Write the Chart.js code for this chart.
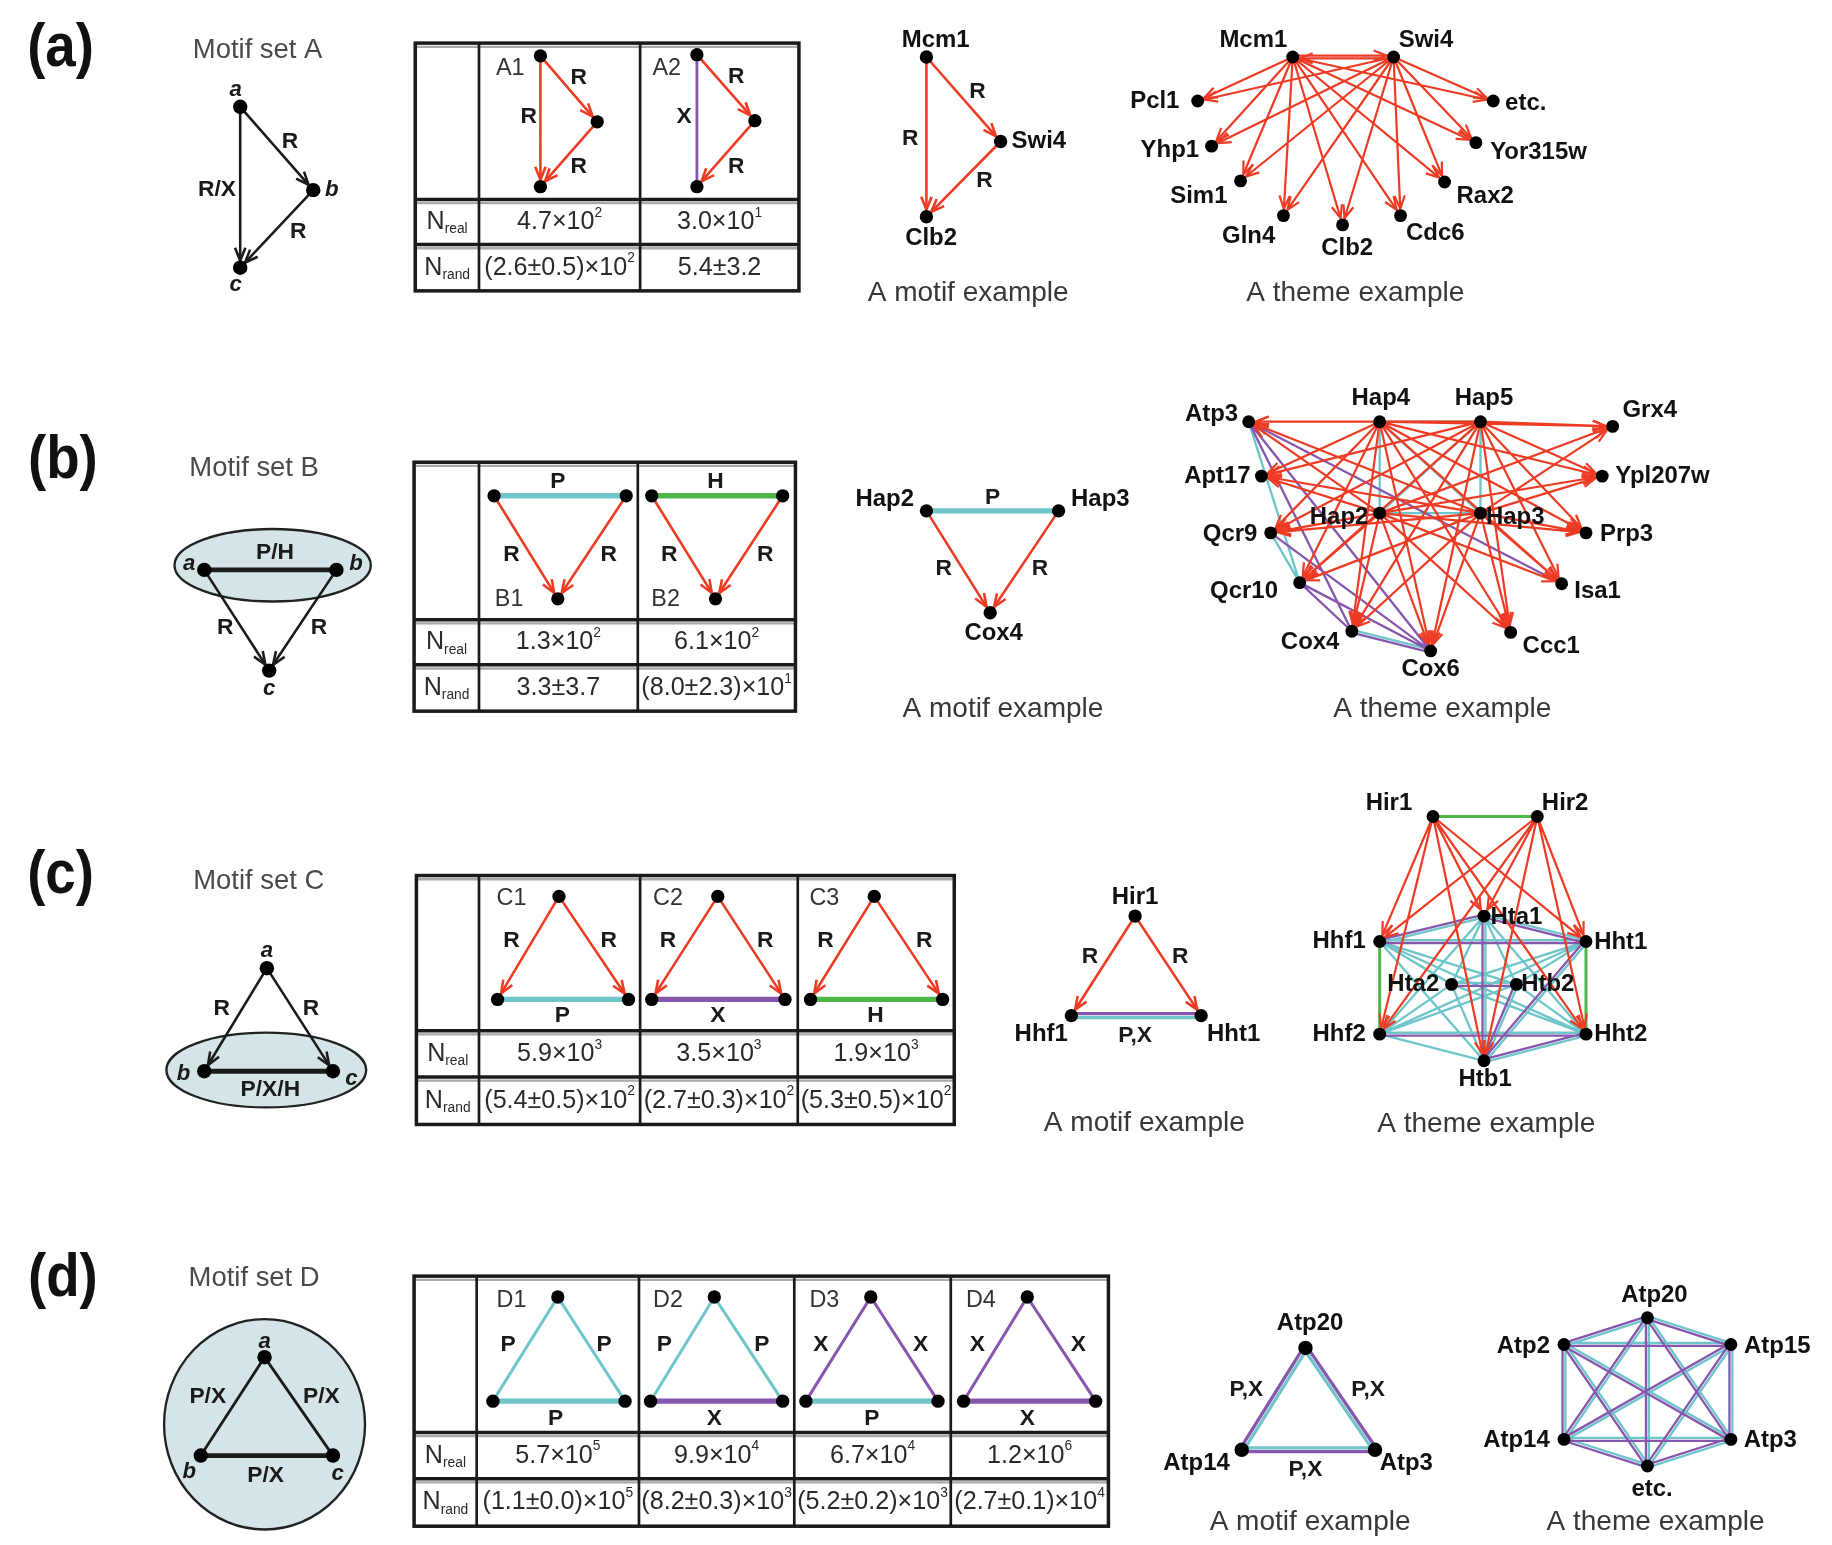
<!DOCTYPE html>
<html><head><meta charset="utf-8">
<script src="https://cdn.jsdelivr.net/npm/chart.js@4.4.1/dist/chart.umd.min.js"></script>
<style>html,body{margin:0;padding:0;background:#fff;overflow:hidden}canvas{display:block}</style>
</head><body>
<canvas id="c" width="1832" height="1545" style="width:1832px;height:1545px"></canvas>
<script>
// ================= DATA (figure units: 1568 x 1322 frame) =================
const panelLabels = ['(a)','(b)','(c)','(d)'];
const motifSetTitles = ['Motif set A','Motif set B','Motif set C','Motif set D'];
const rowHeads = ['N_{real}','N_{rand}'];
const captions = ['A motif example','A theme example'];

const motifIdsA = ['A1','A2'];
const nRealA = ['4.7×10^2','3.0×10^1'];
const nRandA = ['(2.6±0.5)×10^2','5.4±3.2'];
const motifIdsB = ['B1','B2'];
const nRealB = ['1.3×10^2','6.1×10^2'];
const nRandB = ['3.3±3.7','(8.0±2.3)×10^1'];
const motifIdsC = ['C1','C2','C3'];
const nRealC = ['5.9×10^3','3.5×10^3','1.9×10^3'];
const nRandC = ['(5.4±0.5)×10^2','(2.7±0.3)×10^2','(5.3±0.5)×10^2'];
const motifIdsD = ['D1','D2','D3','D4'];
const nRealD = ['5.7×10^5','9.9×10^4','6.7×10^4','1.2×10^6'];
const nRandD = ['(1.1±0.0)×10^5','(8.2±0.3)×10^3','(5.2±0.2)×10^3','(2.7±0.1)×10^4'];

// generic motif sets (nodes: id, x, y ; edges: from, to, kind)
const genANodes = [['a',201,86],['b',264,158],['c',201,225]];
const genAEdges = [['a','b','K'],['a','c','K'],['b','c','K']];
const genBNodes = [['a',170,486],['b',284,486],['c',226,573]];
const genBEdges = [['a','b','kk'],['a','c','K'],['b','c','K']];
const genCNodes = [['a',224,830],['b',170,919],['c',281,919]];
const genCEdges = [['a','b','K'],['a','c','K'],['b','c','kk']];
const genDNodes = [['a',222,1166],['b',167,1251],['c',281,1251]];
const genDEdges = [['a','b','k'],['a','c','k'],['b','c','kk']];

// motifs inside the tables
const A1Nodes = [['t',460,42],['m',509,99],['b',460,155]];
const A1Edges = [['t','m','R'],['t','b','R'],['m','b','R']];
const A2Nodes = [['t',595,41],['m',645,98],['b',595,155]];
const A2Edges = [['t','m','R'],['t','b','X'],['m','b','R']];
const B1Nodes = [['l',420,422],['r',534,422],['b',475,511]];
const B1Edges = [['l','r','PP'],['l','b','R'],['r','b','R']];
const B2Nodes = [['l',556,422],['r',669,422],['b',611,511]];
const B2Edges = [['l','r','HH'],['l','b','R'],['r','b','R']];
const C1Nodes = [['t',476,768],['l',423,857],['r',536,857]];
const C1Edges = [['t','l','R'],['t','r','R'],['l','r','PP']];
const C2Nodes = [['t',613,768],['l',556,857],['r',671,857]];
const C2Edges = [['t','l','R'],['t','r','R'],['l','r','XX']];
const C3Nodes = [['t',748,768],['l',693,857],['r',807,857]];
const C3Edges = [['t','l','R'],['t','r','R'],['l','r','HH']];
const D1Nodes = [['t',475,1114],['l',419,1204],['r',533,1204]];
const D1Edges = [['t','l','P3'],['t','r','P3'],['l','r','PP']];
const D2Nodes = [['t',610,1114],['l',555,1204],['r',669,1204]];
const D2Edges = [['t','l','P3'],['t','r','P3'],['l','r','XX']];
const D3Nodes = [['t',745,1114],['l',689,1204],['r',803,1204]];
const D3Edges = [['t','l','X3'],['t','r','X3'],['l','r','PP']];
const D4Nodes = [['t',880,1114],['l',825,1204],['r',939,1204]];
const D4Edges = [['t','l','X3'],['t','r','X3'],['l','r','XX']];

// motif examples
const exANodes = [['Mcm1',793,43],['Swi4',857,116],['Clb2',793,181]];
const exAEdges = [['Mcm1','Swi4','R'],['Mcm1','Clb2','R'],['Swi4','Clb2','R']];
const exBNodes = [['Hap2',793,435],['Hap3',907,435],['Cox4',848,523]];
const exBEdges = [['Hap2','Hap3','PP'],['Hap2','Cox4','R'],['Hap3','Cox4','R']];
const exCNodes = [['Hir1',973,785],['Hhf1',918,871],['Hht1',1030,871]];
const exCEdges = [['Hir1','Hhf1','R'],['Hir1','Hht1','R'],['Hhf1','Hht1','Xm'],['Hhf1','Hht1','Pm']];
const exDNodes = [['Atp20',1120,1158],['Atp14',1065,1246],['Atp3',1180,1246]];
const exDEdges = [['Atp20','Atp14','Pm'],['Atp20','Atp14','Xm'],['Atp14','Atp3','Pm'],['Atp14','Atp3','Xm'],['Atp20','Atp3','Xm'],['Atp20','Atp3','Pm']];

// theme examples
const thANodes = [['Mcm1',1109,43],['Swi4',1196,43],['Pcl1',1027,81],['Yhp1',1039,120],['Sim1',1064,150],['Gln4',1101,180],
  ['Clb2',1152,188],['Cdc6',1202,180],['Rax2',1240,151],['Yor315w',1267,117],['etc.',1282,81]];
const thARegs = ['Mcm1','Swi4'];
const thATargets = ['Pcl1','Yhp1','Sim1','Gln4','Clb2','Cdc6','Rax2','Yor315w','etc.'];
const thAExtra = [['Mcm1','Swi4','r'],['Swi4','Mcm1','r']];

const thBNodes = [['Atp3',1071,358],['Hap4',1184,358],['Hap5',1271,358],['Grx4',1385,362],['Apt17',1082,405],['Ypl207w',1376,405],
  ['Qcr9',1090,454],['Hap2',1184,437],['Hap3',1271,437],['Prp3',1362,454],['Qcr10',1115,497],['Isa1',1341,498],
  ['Cox4',1160,539],['Cox6',1228,556],['Ccc1',1297,540]];
const thBRegs = ['Hap4','Hap5','Hap2','Hap3'];
const thBTargets = ['Atp3','Apt17','Qcr9','Qcr10','Cox4','Cox6','Ccc1','Isa1','Prp3','Ypl207w','Grx4'];
const thBCyan = [['Hap4','Hap5'],['Hap2','Hap3'],['Hap4','Hap2'],['Hap5','Hap3'],['Hap4','Hap3'],['Hap5','Hap2'],['Atp3','Qcr10'],['Qcr9','Qcr10'],['Cox4','Cox6']];
const thBPurple = [['Atp3','Isa1'],['Atp3','Cox6'],['Atp3','Cox4'],['Qcr9','Cox6'],['Qcr10','Cox6'],['Qcr10','Cox4'],['Cox4','Cox6']];

const thCNodes = [['Hir1',1230,699],['Hir2',1320,699],['Hta1',1274,785],['Hhf1',1184,807],['Hht1',1362,807],['Hta2',1246,844],
  ['Htb2',1302,844],['Hhf2',1184,887],['Hht2',1362,887],['Htb1',1274,910]];
const thCRegs = ['Hir1','Hir2'];
const thCTargets = ['Hhf1','Hht1','Hhf2','Hht2','Hta1','Htb1'];
const thCHistones = ['Hta1','Hhf1','Hht1','Hta2','Htb2','Hhf2','Hht2','Htb1'];
const thCGreen = [['Hir1','Hir2'],['Hhf1','Hhf2'],['Hht1','Hht2']];
const thCPurple = [['Hhf1','Hht1'],['Hhf2','Hht2'],['Hhf1','Hta1'],['Hta1','Hht1'],['Hta2','Htb2'],['Hta1','Htb1'],['Htb1','Hht1'],['Htb1','Hht2'],['Htb2','Htb1']];

const thDNodes = [['Atp20',1415,1132],['Atp2',1343,1155],['Atp15',1487,1155],['Atp14',1343,1237],['Atp3',1487,1237],['etc.',1415,1260]];

// ================= LAYOUT / STYLE =================
const FW = 1568, FH = 1322, K = 1832 / FW;
const FONT = '"Liberation Sans", Arial, Helvetica, sans-serif';
const RED = '#ee3b24', CY = '#6fc6ca', PU = '#8757ad', GR = '#4cb747', BK = '#1b1b1b';
const STY = {
  K:{c:BK,w:2.2,arrow:1,o:2}, k:{c:BK,w:2.4,o:2}, kk:{c:BK,w:4.2,o:2},
  R:{c:RED,w:2.2,arrow:1,o:1}, r:{c:RED,w:1.9,arrow:1,o:1},
  P3:{c:CY,w:2.6,o:4}, PP:{c:CY,w:4.6,o:4}, Pm:{c:CY,w:2.8,o:4}, p:{c:CY,w:2,o:6},
  X:{c:PU,w:2.4,o:3}, X3:{c:PU,w:2.6,o:3}, XX:{c:PU,w:4.6,o:3}, Xm:{c:PU,w:2.8,o:3}, x:{c:PU,w:2,o:5},
  HH:{c:GR,w:4.6,o:3}, h:{c:GR,w:2.6,o:3}
};
const ARROW_GAP = 6, ARROW_LEN = 12, ARROW_ANG = 0.38;

function product(a, b, kind){ const out=[]; a.forEach(s=>b.forEach(t=>out.push([s,t,kind]))); return out; }
function pairs(list, kind){ const out=[]; for(let i=0;i<list.length;i++) for(let j=i+1;j<list.length;j++) out.push([list[i],list[j],kind]); return out; }
function tag(list, kind){ return list.map(p=>[p[0],p[1],kind]); }
const greenKeys = new Set(thCGreen.map(p=>[p[0],p[1]].sort().join('|')));

const graphs = [
  {n:genANodes,e:genAEdges,r:6.5},{n:genBNodes,e:genBEdges,r:6.5},{n:genCNodes,e:genCEdges,r:6.5},{n:genDNodes,e:genDEdges,r:6.5},
  {n:A1Nodes,e:A1Edges,r:6},{n:A2Nodes,e:A2Edges,r:6},{n:B1Nodes,e:B1Edges,r:6},{n:B2Nodes,e:B2Edges,r:6},
  {n:C1Nodes,e:C1Edges,r:6},{n:C2Nodes,e:C2Edges,r:6},{n:C3Nodes,e:C3Edges,r:6},
  {n:D1Nodes,e:D1Edges,r:6},{n:D2Nodes,e:D2Edges,r:6},{n:D3Nodes,e:D3Edges,r:6},{n:D4Nodes,e:D4Edges,r:6},
  {n:exANodes,e:exAEdges,r:6,key:'exA'},{n:exBNodes,e:exBEdges,r:6,key:'exB'},{n:exCNodes,e:exCEdges,r:6,key:'exC'},{n:exDNodes,e:exDEdges,r:6.5,key:'exD'},
  {n:thANodes,e:[...thAExtra,...product(thARegs,thATargets,'r')],r:5.8,key:'thA'},
  {n:thBNodes,e:[...tag(thBCyan,'p'),...tag(thBPurple,'x'),...product(thBRegs,thBTargets,'r')],r:5.8,key:'thB'},
  {n:thCNodes,e:[...tag(thCGreen,'h'),...pairs(thCHistones,'p').filter(e=>!greenKeys.has([e[0],e[1]].sort().join('|'))),...tag(thCPurple,'x'),...product(thCRegs,thCTargets,'r')],r:5.8,key:'thC'},
  {n:thDNodes,e:[...pairs(thDNodes.map(n=>n[0]),'p'),...pairs(thDNodes.map(n=>n[0]),'x')],r:5.8,key:'thD'}
];

const nodeLabelPos = {
  exA:{Mcm1:[801,29],Swi4:[890,116],Clb2:[797,200]},
  exB:{Hap2:[757,425],Hap3:[943,425],Cox4:[851,541]},
  exC:{Hir1:[973,769],Hhf1:[892,887],Hht1:[1058,887]},
  exD:{Atp20:[1124,1137],Atp14:[1026,1258],Atp3:[1207,1258]},
  thA:{Mcm1:[1075,29],Swi4:[1224,29],Pcl1:[990,81],Yhp1:[1003,124],Sim1:[1028,163],Gln4:[1071,198],Clb2:[1156,208],Cdc6:[1232,195],Rax2:[1275,163],Yor315w:[1321,125],'etc.':[1310,83]},
  thB:{Atp3:[1039,352],Hap4:[1185,338],Hap5:[1274,338],Grx4:[1417,348],Apt17:[1044,405],Ypl207w:[1428,405],Qcr9:[1055,455],Hap2:[1149,441],Hap3:[1301,441],Prp3:[1397,455],Qcr10:[1067,505],Isa1:[1372,505],Cox4:[1124,549],Cox6:[1228,572],Ccc1:[1332,552]},
  thC:{Hir1:[1192,688],Hir2:[1344,688],Hta1:[1302,786],Hhf1:[1149,807],Hht1:[1392,808],Hta2:[1213,844],Htb2:[1329,844],Hhf2:[1149,887],Hht2:[1392,887],Htb1:[1275,926]},
  thD:{Atp20:[1421,1113],Atp2:[1308,1157],Atp15:[1527,1157],Atp14:[1302,1238],Atp3:[1521,1238],'etc.':[1419,1280]}
};

const tables = [
  {cols:[352,407,546,683], rows:[31,166,205,245], real:nRealA, rand:nRandA},
  {cols:[351,407,544,680], rows:[393,529,568,608], real:nRealB, rand:nRandB},
  {cols:[353,407,546,682,817], rows:[750,884,924,965], real:nRealC, rand:nRandC},
  {cols:[351,405,545,679,814,950], rows:[1096,1231,1271,1312], real:nRealD, rand:nRandD}
];
const ellipses = [[229,482,84,31],[223.5,918,85.5,32],[222,1224,86,90]];

const TS = {
  panel:{s:52,b:1,c:'#111',sx:0.9}, set:{s:23.5,c:'#4a4a4a'}, cap:{s:24,c:'#383838'},
  node:{s:20.5,b:1,c:'#111'}, elab:{s:19.5,b:1,c:'#1a1a1a'}, ital:{s:19,b:1,it:1,c:'#1a1a1a'},
  id:{s:20,c:'#333'}, tab:{s:21.5,c:'#2a2a2a'}
};

const texts = [
  [panelLabels[0],46,36,'panel'],[panelLabels[1],48,392,'panel'],[panelLabels[2],46,751,'panel'],[panelLabels[3],48,1099,'panel'],
  [motifSetTitles[0],216,37,'set'],[motifSetTitles[1],213,398,'set'],[motifSetTitles[2],217,755,'set'],[motifSetTitles[3],213,1098,'set'],
  ['a',197,71,'ital'],['b',280,158,'ital'],['c',197,240,'ital'],['R',244,116,'elab'],['R/X',181,158,'elab'],['R',251,194,'elab'],
  ['a',157,481,'ital'],['b',301,481,'ital'],['c',226,589,'ital'],['P/H',231,471,'elab'],['R',188,536,'elab'],['R',269,536,'elab'],
  ['a',224,815,'ital'],['b',152,921,'ital'],['c',297,926,'ital'],['R',185,865,'elab'],['R',262,865,'elab'],['P/X/H',227,935,'elab'],
  ['a',222,1153,'ital'],['b',157,1265,'ital'],['c',285,1267,'ital'],['P/X',173,1200,'elab'],['P/X',271,1200,'elab'],['P/X',223,1268,'elab'],
  [motifIdsA[0],434,53,'id'],['R',493,61,'elab'],['R',450,95,'elab'],['R',493,138,'elab'],
  [motifIdsA[1],569,53,'id'],['R',629,60,'elab'],['X',584,95,'elab'],['R',629,138,'elab'],
  ['P',475,410,'elab'],['R',435,473,'elab'],['R',519,473,'elab'],[motifIdsB[0],433,512,'id'],
  ['H',611,410,'elab'],['R',571,473,'elab'],['R',654,473,'elab'],[motifIdsB[1],568,512,'id'],
  [motifIdsC[0],435,770,'id'],['R',435,806,'elab'],['R',519,806,'elab'],['P',479,871,'elab'],
  [motifIdsC[1],570,770,'id'],['R',570,806,'elab'],['R',654,806,'elab'],['X',613,871,'elab'],
  [motifIdsC[2],705,770,'id'],['R',706,806,'elab'],['R',791,806,'elab'],['H',749,871,'elab'],
  [motifIdsD[0],435,1117,'id'],['P',432,1155,'elab'],['P',515,1155,'elab'],['P',473,1219,'elab'],
  [motifIdsD[1],570,1117,'id'],['P',567,1155,'elab'],['P',651,1155,'elab'],['X',610,1219,'elab'],
  [motifIdsD[2],705,1117,'id'],['X',702,1155,'elab'],['X',788,1155,'elab'],['P',746,1219,'elab'],
  [motifIdsD[3],840,1117,'id'],['X',837,1155,'elab'],['X',924,1155,'elab'],['X',880,1219,'elab'],
  ['R',837,73,'elab'],['R',779,114,'elab'],['R',843,150,'elab'],
  ['P',850,424,'elab'],['R',808,485,'elab'],['R',891,485,'elab'],
  ['R',934,820,'elab'],['R',1012,820,'elab'],['P,X',973,888,'elab'],
  ['P,X',1069,1194,'elab'],['P,X',1174,1194,'elab'],['P,X',1120,1263,'elab'],
  [captions[0],829,247,'cap'],[captions[1],1163,247,'cap'],[captions[0],859,606,'cap'],[captions[1],1238,606,'cap'],
  [captions[0],981,964,'cap'],[captions[1],1276,965,'cap'],[captions[0],1124,1309,'cap'],[captions[1],1422,1309,'cap']
];

// ================= BUILD DATASETS =================
const segs = {}, arrows = {}, nodeGroups = {};
graphs.forEach(g=>{
  const pos = {};
  g.n.forEach(([id,x,y])=>{ pos[id]=[x,y]; (nodeGroups[g.r]=nodeGroups[g.r]||[]).push({x,y}); });
  const groups = new Map();
  g.e.forEach(e=>{ const key=[e[0],e[1]].sort().join('|'); if(!groups.has(key)) groups.set(key,[]); groups.get(key).push(e); });
  groups.forEach(list=>{
    const [ax,ay]=pos[list[0][0]], [bx,by]=pos[list[0][1]];
    const L=Math.hypot(bx-ax,by-ay), nx=-(by-ay)/L, ny=(bx-ax)/L;
    const sep = list.length>1 ? Math.max(...list.map(e=>(STY[e[2]]||STY.k).w))+0.5 : 0;
    list.forEach((e,i)=>{
      const st=STY[e[2]]||STY.k, off=(i-(list.length-1)/2)*sep;
      let [x1,y1]=pos[e[0]], [x2,y2]=pos[e[1]];
      x1+=nx*off; y1+=ny*off; x2+=nx*off; y2+=ny*off;
      if(st.arrow){
        const l=Math.hypot(x2-x1,y2-y1), ux=(x2-x1)/l, uy=(y2-y1)/l;
        x2-=ux*ARROW_GAP; y2-=uy*ARROW_GAP;
        (arrows[e[2]]=arrows[e[2]]||[]).push([x2,y2,ux,uy]);
      }
      (segs[e[2]]=segs[e[2]]||[]).push({x:x1,y:y1},{x:x2,y:y2},{x:null,y:null});
    });
  });
});

const datasets = [];
Object.keys(nodeGroups).forEach(r=>{
  datasets.push({label:'nodes'+r, data:nodeGroups[r], pointRadius:(+r)*K*0.95, pointHoverRadius:(+r)*K*0.95,
    backgroundColor:'#000', borderWidth:0, showLine:false, order:0});
});
Object.keys(segs).forEach(kind=>{
  const st=STY[kind]||STY.k;
  datasets.push({label:kind, data:segs[kind], showLine:true, spanGaps:false, tension:0,
    borderColor:st.c, backgroundColor:st.c, borderWidth:st.w*K, pointRadius:0, pointHoverRadius:0, pointHitRadius:0,
    borderCapStyle:'butt', order:st.o});
});

// ================= DRAW HELPERS =================
function richParts(s){
  const parts=[]; const re=/\^(\S)|_\{([^}]*)\}/g; let last=0, m;
  while((m=re.exec(s))){ if(m.index>last) parts.push({t:s.slice(last,m.index),m:0}); parts.push(m[1]?{t:m[1],m:1}:{t:m[2],m:-1}); last=re.lastIndex; }
  if(last<s.length) parts.push({t:s.slice(last),m:0});
  return parts;
}
function drawText(ctx, s, X, Y, st, maxW){
  const S=TS[st], size=S.s*K;
  ctx.fillStyle=S.c; ctx.textBaseline='middle';
  const base=`${S.it?'italic ':''}${S.b?'bold ':''}${size}px ${FONT}`;
  if(/[\^_]/.test(s)){
    const parts=richParts(s), small=`${S.b?'bold ':''}${size*0.55}px ${FONT}`;
    let w=0; parts.forEach(p=>{ ctx.font=p.m?small:base; p.w=ctx.measureText(p.t).width; w+=p.w; });
    const f = maxW && w>maxW ? maxW/w : 1;
    ctx.save(); ctx.translate(X,Y); ctx.scale(f,1);
    let cx=-w/2; ctx.textAlign='left';
    parts.forEach(p=>{ ctx.font=p.m?small:base; const dy=p.m===1?-size*0.36:(p.m===-1?size*0.3:0); ctx.fillText(p.t,cx,dy); cx+=p.w; });
    ctx.restore();
    return;
  }
  ctx.font=base; ctx.textAlign='center';
  ctx.save(); ctx.translate(X,Y); ctx.scale(S.sx||1,1); ctx.fillText(s,0,0); ctx.restore();
}

const decor = {
  id:'decor',
  beforeDraw(chart){ const c=chart.ctx; c.save(); c.fillStyle='#fff'; c.fillRect(0,0,chart.width,chart.height); c.restore(); },
  beforeDatasetsDraw(chart){
    const c=chart.ctx, xs=chart.scales.x, ys=chart.scales.y;
    const px=v=>xs.getPixelForValue(v), py=v=>ys.getPixelForValue(v);
    c.save();
    ellipses.forEach(([ex,ey,rx,ry])=>{
      c.beginPath(); c.ellipse(px(ex),py(ey),rx*K,ry*K,0,0,Math.PI*2);
      c.fillStyle='#d5e4e7'; c.fill(); c.lineWidth=2*K; c.strokeStyle='#222'; c.stroke();
    });
    tables.forEach(t=>{
      const x0=px(t.cols[0]), x1=px(t.cols[t.cols.length-1]);
      c.strokeStyle='#a9a9a9'; c.lineWidth=2*K;
      [t.rows[0],t.rows[1],t.rows[2]].forEach(r=>{ c.beginPath(); c.moveTo(x0,py(r+3.2)); c.lineTo(x1,py(r+3.2)); c.stroke(); });
      c.strokeStyle='#1a1a1a';
      c.lineWidth=2.3*K;
      t.cols.slice(1,-1).forEach(cx=>{ c.beginPath(); c.moveTo(px(cx),py(t.rows[0])); c.lineTo(px(cx),py(t.rows[3])); c.stroke(); });
      c.lineWidth=3*K;
      [t.rows[1],t.rows[2]].forEach(r=>{ c.beginPath(); c.moveTo(x0,py(r)); c.lineTo(x1,py(r)); c.stroke(); });
      c.strokeRect(x0,py(t.rows[0]),x1-x0,py(t.rows[3])-py(t.rows[0]));
    });
    c.restore();
  },
  afterDatasetDraw(chart,args){
    const ds=chart.data.datasets[args.index], list=arrows[ds.label];
    if(!list) return;
    const c=chart.ctx, xs=chart.scales.x, ys=chart.scales.y, st=STY[ds.label];
    c.save(); c.strokeStyle=st.c; c.lineWidth=st.w*K; c.lineJoin='miter'; c.lineCap='butt';
    list.forEach(([x,y,ux,uy])=>{
      const tx=xs.getPixelForValue(x), ty=ys.getPixelForValue(y), L=ARROW_LEN*K;
      const a=Math.atan2(uy,ux);
      c.beginPath();
      c.moveTo(tx-L*Math.cos(a-ARROW_ANG), ty-L*Math.sin(a-ARROW_ANG));
      c.lineTo(tx,ty);
      c.lineTo(tx-L*Math.cos(a+ARROW_ANG), ty-L*Math.sin(a+ARROW_ANG));
      c.stroke();
    });
    c.restore();
  },
  afterDatasetsDraw(chart){
    const c=chart.ctx, xs=chart.scales.x, ys=chart.scales.y;
    const px=v=>xs.getPixelForValue(v), py=v=>ys.getPixelForValue(v);
    c.save();
    texts.forEach(([s,x,y,st])=>drawText(c,s,px(x),py(y),st));
    graphs.forEach(g=>{ if(!g.key) return; const lp=nodeLabelPos[g.key];
      g.n.forEach(([id])=>{ const p=lp[id]; if(p) drawText(c,id,px(p[0]),py(p[1]),'node'); }); });
    tables.forEach(t=>{
      const yr=(t.rows[1]+t.rows[2])/2, yd=(t.rows[2]+t.rows[3])/2, hx=(t.cols[0]+t.cols[1])/2;
      drawText(c,rowHeads[0],px(hx),py(yr),'tab',(t.cols[1]-t.cols[0]-4)*K);
      drawText(c,rowHeads[1],px(hx),py(yd),'tab',(t.cols[1]-t.cols[0]-4)*K);
      t.real.forEach((v,i)=>drawText(c,v,px((t.cols[i+1]+t.cols[i+2])/2),py(yr),'tab',(t.cols[i+2]-t.cols[i+1]-5)*K));
      t.rand.forEach((v,i)=>drawText(c,v,px((t.cols[i+1]+t.cols[i+2])/2),py(yd),'tab',(t.cols[i+2]-t.cols[i+1]-5)*K));
    });
    c.restore();
  }
};

new Chart(document.getElementById('c'), {
  type:'scatter',
  data:{datasets},
  options:{
    responsive:false, animation:false, devicePixelRatio:1,
    layout:{padding:0},
    scales:{
      x:{type:'linear',min:0,max:FW,display:false},
      y:{type:'linear',min:0,max:FH,reverse:true,display:false}
    },
    plugins:{legend:{display:false},tooltip:{enabled:false}},
    events:[]
  },
  plugins:[decor]
});
</script>
</body></html>
